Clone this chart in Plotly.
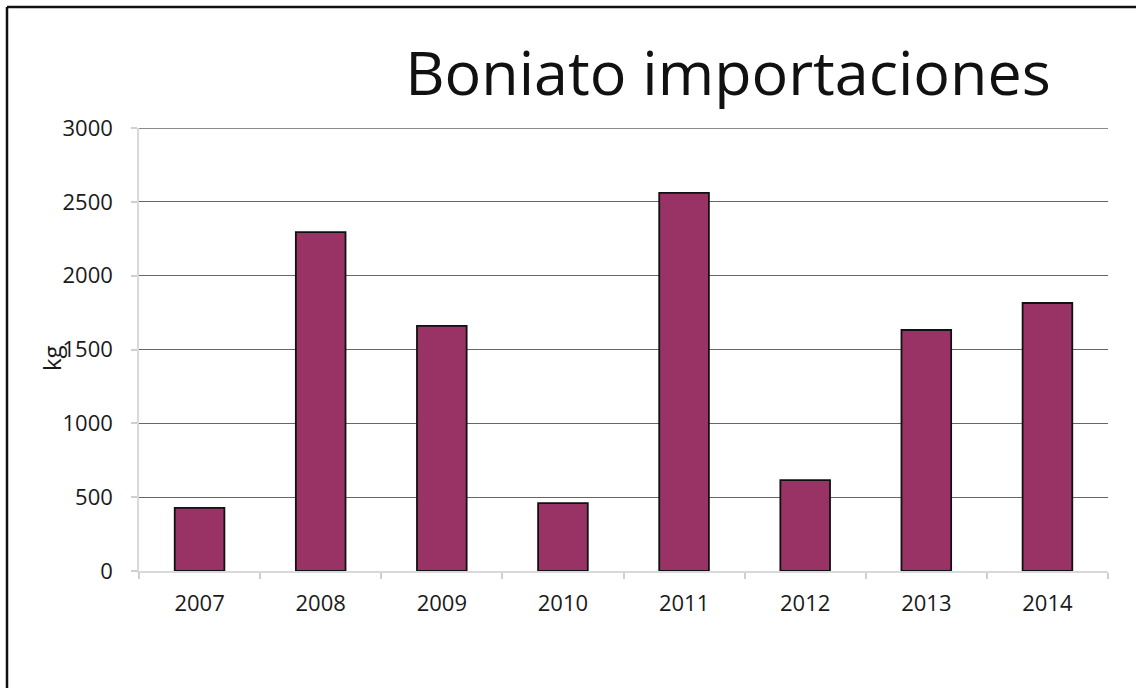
import plotly.graph_objects as go

years = ["2007", "2008", "2009", "2010", "2011", "2012", "2013", "2014"]
kg = [427, 2295, 1660, 460, 2560, 616, 1632, 1815]
y_ticks = [0, 500, 1000, 1500, 2000, 2500, 3000]

W, H = 1136, 688
L, R, T, B = 139, 28, 128, 117
pw, ph = W - L - R, H - T - B

def px_to_paper_x(px):
    return (px - L) / pw

def px_to_paper_y(py):
    return (H - B - py) / ph

fig = go.Figure()
fig.add_trace(go.Bar(
    x=years, y=kg,
    marker=dict(color="#993366", line=dict(color="#111111", width=1.8)),
    width=0.41,
))

font_family = "Open Sans, DejaVu Sans, sans-serif"
grid_color = "#666666"

fig.update_layout(
    width=W, height=H,
    margin=dict(l=L, r=R, t=T, b=B),
    paper_bgcolor="white", plot_bgcolor="white",
    showlegend=False,
    title=dict(
        text="Boniato importaciones",
        font=dict(family=font_family, size=61, color="#111111"),
        x=728 / W, xanchor="center", xref="container",
        y=1 - 74 / H, yanchor="middle", yref="container",
    ),
    xaxis=dict(
        type="category",
        showline=True, linecolor="#d9d9d9", linewidth=1.5,
        ticks="outside", tickson="boundaries", ticklen=6, tickcolor="#cfcfcf", tickwidth=1.5,
        tickfont=dict(family=font_family, size=22, color="#1a1a1a"),
        ticklabelstandoff=12,
        showgrid=False,
        range=[-0.5, 7.5],
    ),
    yaxis=dict(
        range=[0, 3000],
        tickvals=y_ticks,
        showline=True, linecolor="#d9d9d9", linewidth=1.5,
        ticks="outside", ticklen=6, tickcolor="#cfcfcf", tickwidth=1.5,
        tickfont=dict(family=font_family, size=22, color="#1a1a1a"),
        ticklabelstandoff=14,
        showgrid=True, gridcolor=grid_color, gridwidth=1.4,
        zeroline=False,
    ),
    bargap=0.59,
)

# top gridline (plotly omits the gridline at the range edge)
fig.add_shape(type="line", xref="paper", yref="y",
              x0=0, x1=1, y0=max(y_ticks), y1=max(y_ticks),
              line=dict(color=grid_color, width=1.4), layer="below")

fig.add_annotation(
    text="kg", textangle=-90,
    x=px_to_paper_x(51), y=px_to_paper_y(358),
    xref="paper", yref="paper", showarrow=False,
    xanchor="center", yanchor="middle",
    font=dict(family=font_family, size=24, color="#1a1a1a"),
)

# Frame (left and top borders)
fig.add_shape(type="line", xref="paper", yref="paper",
              x0=px_to_paper_x(7), x1=px_to_paper_x(7),
              y0=px_to_paper_y(7), y1=px_to_paper_y(H + 5),
              line=dict(color="#111111", width=2.5))
fig.add_shape(type="line", xref="paper", yref="paper",
              x0=px_to_paper_x(7), x1=px_to_paper_x(W + 5),
              y0=px_to_paper_y(7), y1=px_to_paper_y(7),
              line=dict(color="#111111", width=2.5))

fig.write_html("out.html")
